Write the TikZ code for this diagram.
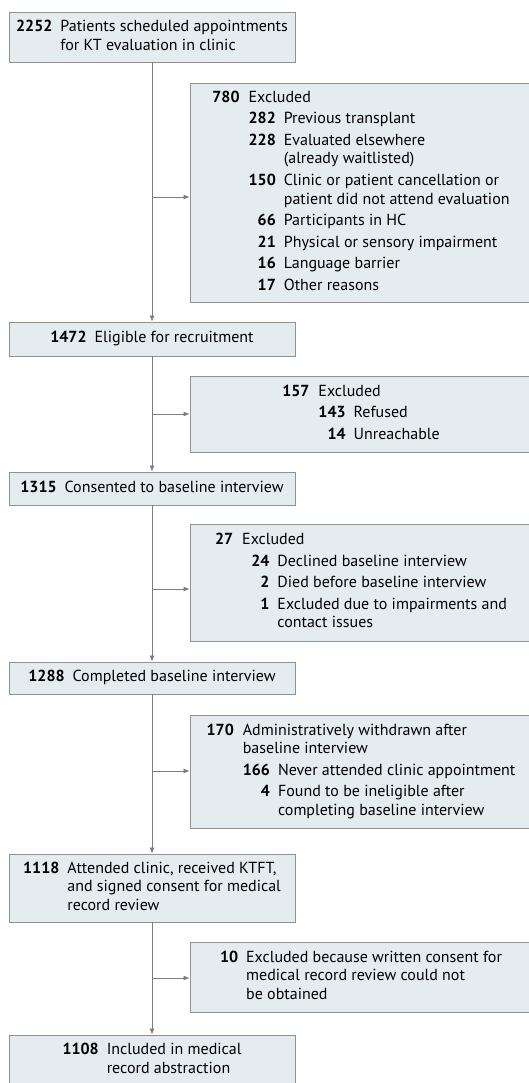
\documentclass[tikz,border=0pt]{standalone}
\usepackage{fontspec}
\setmainfont{PT Sans}
\usetikzlibrary{arrows.meta}
\definecolor{boxfill}{RGB}{228,236,240}
\definecolor{boxline}{RGB}{145,145,145}
\definecolor{arrline}{RGB}{125,125,125}
\newcommand\fs{\fontsize{16}{18.6}\selectfont}
\newlength\subw
\newcommand\sn[1]{\makebox[\subw][r]{\textbf{#1}}}
\newcommand\mainrows[1]{\begin{tabular}{@{}r@{\hspace{8pt}}l@{}}#1\end{tabular}}
\newcommand\exrows[1]{\begin{tabular}{@{}r@{\hspace{9pt}}l@{\hspace{8pt}}l@{}}#1\end{tabular}}
\newcommand\mc[1]{\multicolumn{2}{@{}l@{}}{#1}}
\newcommand\nx{\\[3pt]}
\begin{document}
\settowidth{\subw}{\fs\bfseries 000}\global\subw=\subw
\begin{tikzpicture}[x=1pt,y=-1pt,
  mainbox/.style={draw=boxline, fill=boxfill, line width=0.9pt, minimum width=286pt, inner sep=0pt, font=\fs},
  exbox/.style={draw=boxline, fill=boxfill, line width=0.9pt, minimum width=342pt, inner sep=0pt, font=\fs},
  arr/.style={draw=arrline, line width=0.8pt, -{Latex[length=6pt,width=5pt]}}]
\useasboundingbox (0,0) rectangle (529,1083);
\clip (0,0) rectangle (529,1083);

\node[mainbox, minimum height=50pt] (b1) at (152,37)
  {\mainrows{\textbf{2252} & Patients scheduled appointments\\ & for KT evaluation in clinic}};
\node[exbox, minimum height=219pt] (e1) at (361,192.5)
  {\exrows{\textbf{780} & \mc{Excluded}\nx
   & \sn{282} & Previous transplant\nx
   & \sn{228} & Evaluated elsewhere\\
   & & (already waitlisted)\nx
   & \sn{150} & Clinic or patient cancellation or\\
   & & patient did not attend evaluation\nx
   & \sn{66} & Participants in HC\nx
   & \sn{21} & Physical or sensory impairment\nx
   & \sn{16} & Language barrier\nx
   & \sn{17} & Other reasons}};
\node[mainbox, minimum height=34pt] (b2) at (152,339)
  {\mainrows{\textbf{1472} & Eligible for recruitment}};
\node[exbox, minimum height=76pt] (e2) at (361,414)
  {\exrows{\textbf{157} & \mc{Excluded}\nx
   & \sn{143} & Refused\nx
   & \sn{14} & Unreachable}};
\node[mainbox, minimum height=33pt] (b3) at (152,488.5)
  {\mainrows{\textbf{1315} & Consented to baseline interview}};
\node[exbox, minimum height=117pt] (e3) at (361,582.5)
  {\exrows{\textbf{27} & \mc{Excluded}\nx
   & \sn{24} & Declined baseline interview\nx
   & \sn{2} & Died before baseline interview\nx
   & \sn{1} & Excluded due to impairments and\\
   & & contact issues}};
\node[mainbox, minimum height=32pt] (b4) at (152,678)
  {\mainrows{\textbf{1288} & Completed baseline interview}};
\node[exbox, minimum height=113pt] (e4) at (361,771.5)
  {\exrows{\textbf{170} & \mc{Administratively withdrawn after}\\
   & \mc{baseline interview}\nx
   & \sn{166} & Never attended clinic appointment\nx
   & \sn{4} & Found to be ineligible after\\
   & & completing baseline interview}};
\node[mainbox, minimum height=68pt] (b5) at (152,888)
  {\mainrows{\textbf{1118} & Attended clinic, received KTFT,\\ & and signed consent for medical\\ & record review}};
\node[exbox, minimum height=70pt] (e5) at (361,977)
  {\mainrows{\textbf{10} & Excluded because written consent for\\ & medical record review could not\\ & be obtained}};
\node[mainbox, minimum height=51pt] (b6) at (152,1060.5)
  {\mainrows{\textbf{1108} & Included in medical\\ & record abstraction}};

\coordinate (j1) at (152,197);
\coordinate (j2) at (152,414);
\coordinate (j3) at (152,589);
\coordinate (j4) at (152,771);
\coordinate (j5) at (152,978);

\draw[arr] (b1) -- (b2);
\draw[arr] (b2) -- (b3);
\draw[arr] (b3) -- (b4);
\draw[arr] (b4) -- (b5);
\draw[arr] (b5) -- (b6);
\draw[arr] (j1) -- (e1.west |- j1);
\draw[arr] (j2) -- (e2.west |- j2);
\draw[arr] (j3) -- (e3.west |- j3);
\draw[arr] (j4) -- (e4.west |- j4);
\draw[arr] (j5) -- (e5.west |- j5);
\end{tikzpicture}
\end{document}
